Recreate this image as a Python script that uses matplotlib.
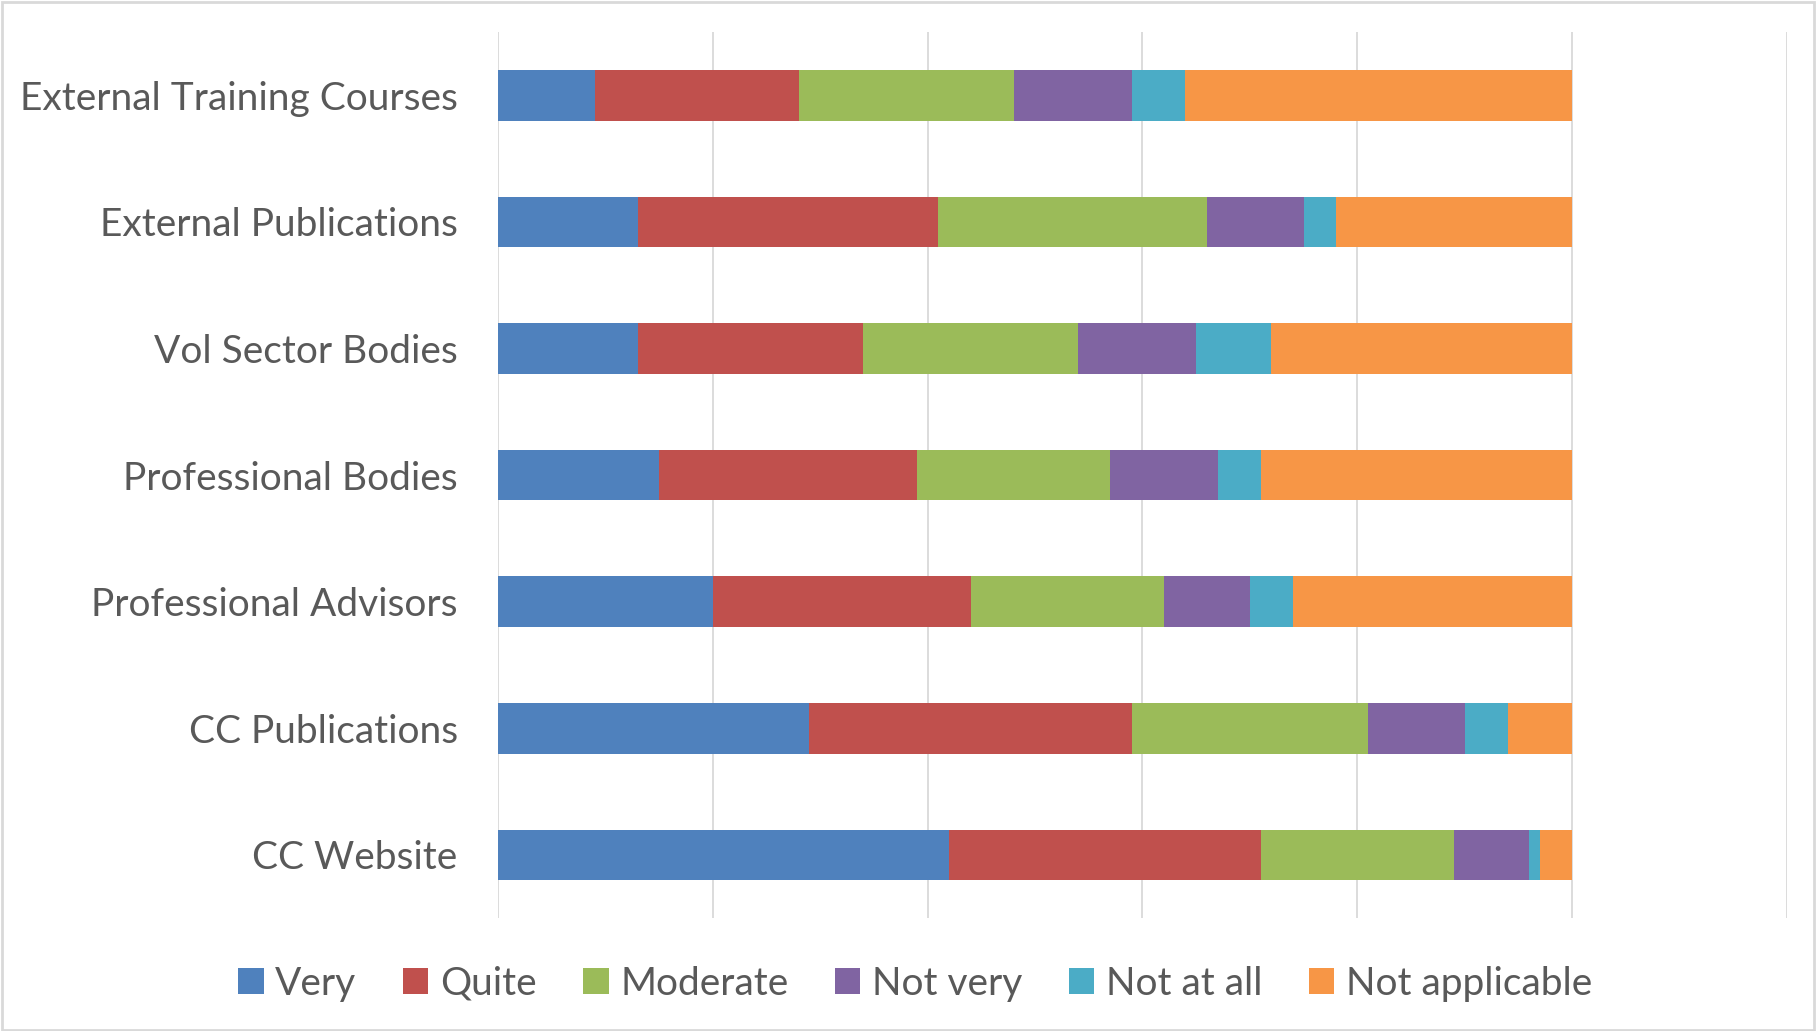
import numpy as np
import matplotlib
matplotlib.use('Agg')
import matplotlib.pyplot as plt
from matplotlib.patches import Rectangle

plt.rcParams.update({'font.family': ['Lato', 'DejaVu Sans']})

# data (percent of respondents), listed top-to-bottom as in the chart
sources = ["External Training Courses", "External Publications",
           "Vol Sector Bodies", "Professional Bodies",
           "Professional Advisors", "CC Publications", "CC Website"]
very = [9, 13, 13, 15, 20, 29, 42]
quite = [19, 28, 21, 24, 24, 30, 29]
moderate = [20, 25, 20, 18, 18, 22, 18]
not_very = [11, 9, 11, 10, 8, 9, 7]
not_at_all = [5, 3, 7, 4, 4, 4, 1]
not_applicable = [36, 22, 28, 29, 26, 6, 3]

series = [("Very", very, '#4F81BD'),
          ("Quite", quite, '#C0504D'),
          ("Moderate", moderate, '#9BBB59'),
          ("Not very", not_very, '#8064A2'),
          ("Not at all", not_at_all, '#4BACC6'),
          ("Not applicable", not_applicable, '#F79646')]

text_col = '#595959'

fig = plt.figure(figsize=(18.16, 10.31), dpi=100)
ax = fig.add_axes([0.2742, 0.1094, 0.984 - 0.2742, 0.969 - 0.1094])

y = np.arange(len(sources))[::-1]
left = np.zeros(len(sources))
for name, vals, col in series:
    vals = np.array(vals, dtype=float)
    ax.barh(y, vals, left=left, height=0.4, color=col, label=name,
            edgecolor='none', zorder=3)
    left += vals

ax.set_xlim(0, 120)
ax.set_ylim(-0.5, len(sources) - 0.5)
ax.set_xticks(np.arange(0, 121, 20))
ax.set_xticklabels([])
ax.tick_params(axis='x', length=0)
ax.tick_params(axis='y', length=0, pad=29, labelsize=28, labelcolor=text_col)
ax.set_yticks(y)
ax.set_yticklabels(sources)
ax.grid(axis='x', color='#D9D9D9', lw=1.3, zorder=0)
for s in ax.spines.values():
    s.set_visible(False)

leg = fig.legend(loc='center', bbox_to_anchor=(0.504, 0.046), ncol=6,
                 frameon=False, fontsize=28, handlelength=0.65,
                 handleheight=0.65, handletextpad=0.3, columnspacing=1.2)
for t in leg.get_texts():
    t.set_color(text_col)

fig.patches.append(Rectangle((0.001, 0.001), 0.998, 0.997,
                             transform=fig.transFigure, fill=False,
                             edgecolor='#D9D9D9', lw=2))

fig.savefig('out.png', dpi=100)
